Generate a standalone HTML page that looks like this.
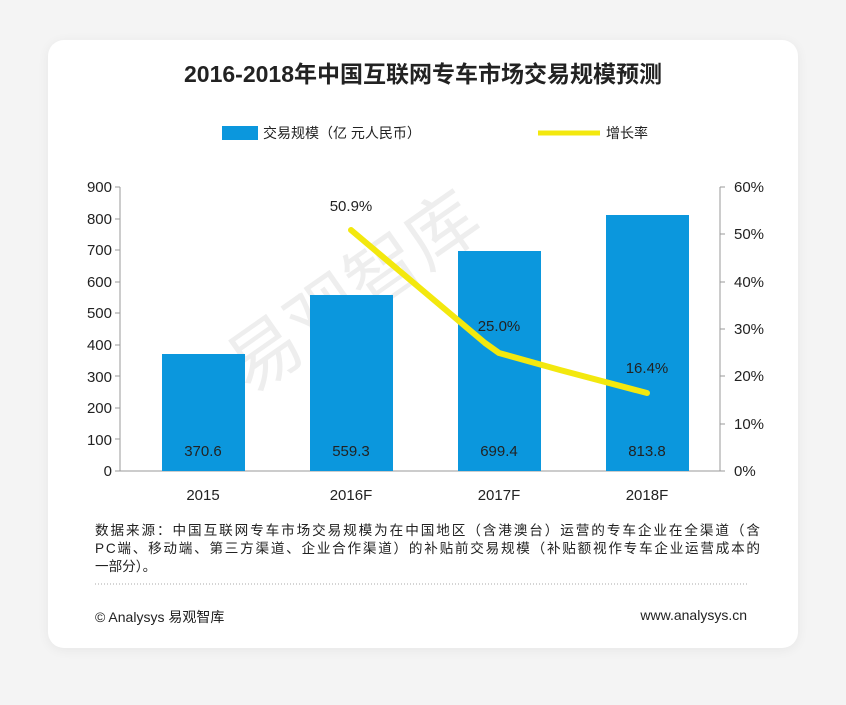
<!DOCTYPE html>
<html><head><meta charset="utf-8"><style>
body{margin:0;width:846px;height:705px;background:#f4f4f4;font-family:"Liberation Sans","Noto Sans CJK SC",sans-serif;overflow:hidden}
.card{position:absolute;left:48px;top:40px;width:750px;height:608px;background:#fff;border-radius:16px;box-shadow:0 2px 12px rgba(0,0,0,0.06)}
</style></head><body>
<div class="card"></div>
<svg width="846" height="705" style="position:absolute;left:0;top:0" font-family="Liberation Sans, Noto Sans CJK SC, sans-serif">
<text x="423" y="82" text-anchor="middle" font-size="23" font-weight="bold" fill="#222">2016-2018年中国互联网专车市场交易规模预测</text>
<rect x="222" y="126" width="36" height="14" fill="#0b97dd"/>
<text x="263" y="138" font-size="14" fill="#222">交易规模（亿 元人民币）</text>
<line x1="538" y1="133" x2="600" y2="133" stroke="#f3e80e" stroke-width="5"/>
<text x="606" y="138" font-size="14" fill="#222">增长率</text>
<text x="250" y="395" font-size="72" fill="#eee" transform="rotate(-35 250 395)">易观智库</text>
<g font-size="15" fill="#222" text-anchor="end">
<text x="112" y="192">900</text><text x="112" y="224">800</text><text x="112" y="255">700</text><text x="112" y="287">600</text><text x="112" y="318">500</text><text x="112" y="350">400</text><text x="112" y="382">300</text><text x="112" y="413">200</text><text x="112" y="445">100</text><text x="112" y="476">0</text>
</g>
<g font-size="15" fill="#222">
<text x="734" y="192">60%</text><text x="734" y="239">50%</text><text x="734" y="287">40%</text><text x="734" y="334">30%</text><text x="734" y="381">20%</text><text x="734" y="429">10%</text><text x="734" y="476">0%</text>
</g>
<g stroke="#999" stroke-width="1">
<line x1="120" y1="187" x2="120" y2="471"/><line x1="115" y1="471" x2="725" y2="471"/><line x1="720" y1="187" x2="720" y2="471"/>
<line x1="115" y1="187" x2="120" y2="187"/><line x1="115" y1="219" x2="120" y2="219"/><line x1="115" y1="250" x2="120" y2="250"/><line x1="115" y1="282" x2="120" y2="282"/><line x1="115" y1="313" x2="120" y2="313"/><line x1="115" y1="345" x2="120" y2="345"/><line x1="115" y1="376" x2="120" y2="376"/><line x1="115" y1="408" x2="120" y2="408"/><line x1="115" y1="439" x2="120" y2="439"/>
<line x1="720" y1="187" x2="725" y2="187"/><line x1="720" y1="234" x2="725" y2="234"/><line x1="720" y1="282" x2="725" y2="282"/><line x1="720" y1="329" x2="725" y2="329"/><line x1="720" y1="376" x2="725" y2="376"/><line x1="720" y1="424" x2="725" y2="424"/>
</g>
<g fill="#0b97dd">
<rect x="162" y="354" width="83" height="117"/><rect x="310" y="295" width="83" height="176"/><rect x="458" y="251" width="83" height="220"/><rect x="606" y="215" width="83" height="256"/>
</g>
<g font-size="15" fill="#222" text-anchor="middle">
<text x="203" y="456">370.6</text><text x="351" y="456">559.3</text><text x="499" y="456">699.4</text><text x="647" y="456">813.8</text>
<text x="203" y="500">2015</text><text x="351" y="500">2016F</text><text x="499" y="500">2017F</text><text x="647" y="500">2018F</text>
</g>
<polyline points="351,230 485,343 499,353 560,370 647,393" fill="none" stroke="#f3e80e" stroke-width="6" stroke-linecap="round" stroke-linejoin="round"/>
<g font-size="15" fill="#222" text-anchor="middle">
<text x="351" y="211">50.9%</text><text x="499" y="331">25.0%</text><text x="647" y="373">16.4%</text>
</g>
<g font-size="13.6" fill="#222">
<text x="95" y="535" textLength="665">数据来源：中国互联网专车市场交易规模为在中国地区（含港澳台）运营的专车企业在全渠道（含</text>
<text x="95" y="553" textLength="665">PC端、移动端、第三方渠道、企业合作渠道）的补贴前交易规模（补贴额视作专车企业运营成本的</text>
<text x="95" y="571">一部分）。</text>
</g>
<line x1="95" y1="584" x2="747" y2="584" stroke="#aaa" stroke-dasharray="1,2"/>
<text x="95" y="622" font-size="14" fill="#222">© Analysys 易观智库</text>
<text x="747" y="620" font-size="14" fill="#222" text-anchor="end">www.analysys.cn</text>
</svg>
</body></html>
